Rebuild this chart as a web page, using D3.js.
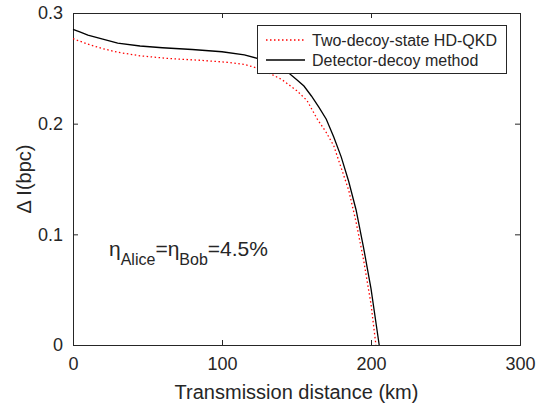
<!DOCTYPE html>
<html>
<head>
<meta charset="utf-8">
<script src="https://cdn.jsdelivr.net/npm/d3@7"></script>
<style>
  body { margin: 0; background: #fff; }
  text { font-family: Arial, "Liberation Sans", Helvetica, sans-serif; fill: #262626; }
</style>
</head>
<body>
<div id="chart"></div>
<script>
// transmission distance (km) and key-rate gap (bpc)
const detectorDist = [0, 5, 10, 20, 30, 45, 60, 80, 100, 115, 125, 135, 145, 150, 155, 160, 165, 170, 175, 180, 185, 190, 195, 200, 205.5];
const detectorRate = [0.2853, 0.2828, 0.2800, 0.2765, 0.2728, 0.2702, 0.2686, 0.2670, 0.2650, 0.2622, 0.2585, 0.2530, 0.2455, 0.2400, 0.2340, 0.2250, 0.2150, 0.2040, 0.1880, 0.1700, 0.1480, 0.1220, 0.0880, 0.0510, 0];

const twoDecoyDist = [0, 10, 20, 30, 45, 65, 85, 105, 115, 125, 132, 140, 150, 157, 164, 170, 175, 180, 185, 190, 195, 200, 203.3];
const twoDecoyRate = [0.2768, 0.2718, 0.2678, 0.2645, 0.2613, 0.2588, 0.2573, 0.2553, 0.2535, 0.2497, 0.2454, 0.2400, 0.2300, 0.2210, 0.2040, 0.1920, 0.1800, 0.1600, 0.1400, 0.1110, 0.0770, 0.0370, 0];

const xTicks = [0, 100, 200, 300];
const yTicks = [0, 0.1, 0.2, 0.3];
const seriesNames = ["Two-decoy-state HD-QKD", "Detector-decoy method"];

const width = 541;
const height = 412;
const margin = { top: 13, right: 21, bottom: 67, left: 73 };
const axisColor = "#262626";

const svg = d3.select("#chart")
  .append("svg")
  .attr("width", width)
  .attr("height", height);

const x = d3.scaleLinear()
  .domain([0, 300])
  .range([margin.left, width - margin.right]);

const y = d3.scaleLinear()
  .domain([0, 0.3])
  .range([height - margin.bottom, margin.top]);

const fmt = (d) => d === 0 ? "0" : d3.format(".1f")(d);

// axes (MATLAB style: inward ticks, box on)
const xAxis = svg.append("g")
  .attr("transform", `translate(0,${y(0)})`)
  .call(d3.axisBottom(x).tickValues(xTicks).tickSize(-5).tickPadding(12).tickFormat(d3.format("d")));
const xTop = svg.append("g")
  .attr("transform", `translate(0,${y(0.3)})`)
  .call(d3.axisTop(x).tickValues(xTicks).tickSize(-5).tickFormat(""));
const yAxis = svg.append("g")
  .attr("transform", `translate(${x(0)},0)`)
  .call(d3.axisLeft(y).tickValues(yTicks).tickSize(-5).tickPadding(10).tickFormat(fmt));
const yRight = svg.append("g")
  .attr("transform", `translate(${x(300)},0)`)
  .call(d3.axisRight(y).tickValues(yTicks).tickSize(-5).tickFormat(""));

[xAxis, xTop, yAxis, yRight].forEach((g) => {
  g.selectAll("path, line").attr("stroke", axisColor).attr("stroke-width", 1);
  g.selectAll("text").style("font-size", "18px").attr("fill", axisColor);
});

// curves
const line = (xs, ys) => d3.line()
  .x((d, i) => x(xs[i]))
  .y((d, i) => y(ys[i]))(xs);

svg.append("path")
  .attr("d", line(twoDecoyDist, twoDecoyRate))
  .attr("fill", "none")
  .attr("stroke", "#ff0000")
  .attr("stroke-width", 1.3)
  .attr("stroke-dasharray", "1.5,2.5");

svg.append("path")
  .attr("d", line(detectorDist, detectorRate))
  .attr("fill", "none")
  .attr("stroke", "#000")
  .attr("stroke-width", 1.3);

// axis labels
svg.append("text")
  .attr("x", (x(0) + x(300)) / 2)
  .attr("y", 399)
  .attr("text-anchor", "middle")
  .style("font-size", "20px")
  .text("Transmission distance (km)");

svg.append("text")
  .attr("transform", `translate(31,${(y(0) + y(0.3)) / 2}) rotate(-90)`)
  .attr("text-anchor", "middle")
  .style("font-size", "20px")
  .text("Δ I(bpc)");

// annotation
const note = svg.append("text")
  .attr("x", 109)
  .attr("y", 256)
  .style("font-size", "21px");
note.append("tspan").text("η");
note.append("tspan").attr("dy", 9).style("font-size", "16px").text("Alice");
note.append("tspan").attr("dy", -9).text("=η");
note.append("tspan").attr("dy", 9).style("font-size", "16px").text("Bob");
note.append("tspan").attr("dy", -9).text("=4.5%");

// legend
const legend = svg.append("g");
legend.append("rect")
  .attr("x", 257.5)
  .attr("y", 25.5)
  .attr("width", 249)
  .attr("height", 48)
  .attr("fill", "#fff")
  .attr("stroke", axisColor)
  .attr("stroke-width", 1);

const legendStyles = [
  { stroke: "#ff0000", dash: "1.5,2.5" },
  { stroke: "#000", dash: null }
];

seriesNames.forEach((name, i) => {
  const ly = 40 + i * 20;
  legend.append("line")
    .attr("x1", 266)
    .attr("x2", 305)
    .attr("y1", ly)
    .attr("y2", ly)
    .attr("stroke", legendStyles[i].stroke)
    .attr("stroke-width", 1.3)
    .attr("stroke-dasharray", legendStyles[i].dash);
  legend.append("text")
    .attr("x", 312)
    .attr("y", ly + 6)
    .style("font-size", "16px")
    .text(name);
});
</script>
</body>
</html>
